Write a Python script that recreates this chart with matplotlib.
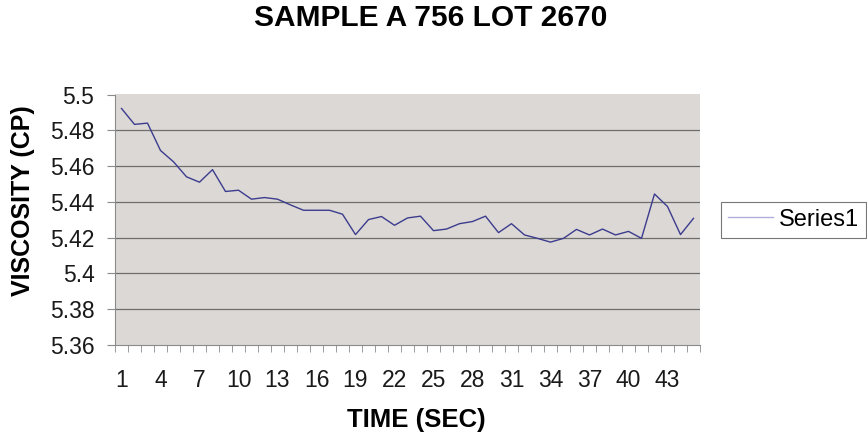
import matplotlib
matplotlib.use("Agg")
import matplotlib.pyplot as plt
import numpy as np

plt.rcParams['font.family'] = ['Liberation Sans', 'DejaVu Sans']

time_sec = list(range(1, 46))
viscosity = [5.4922, 5.4833, 5.4840, 5.4687, 5.4624, 5.4540, 5.4510, 5.4580,
             5.4458, 5.4465, 5.4415, 5.4424, 5.4415, 5.4383, 5.4353, 5.4353,
             5.4353, 5.4331, 5.4217, 5.4301, 5.4318, 5.4269, 5.4310, 5.4320,
             5.4239, 5.4248, 5.4278, 5.4290, 5.4320, 5.4228, 5.4278, 5.4215,
             5.4196, 5.4175, 5.4196, 5.4246, 5.4215, 5.4248, 5.4215, 5.4235,
             5.4196, 5.4444, 5.4374, 5.4217, 5.4308]
y_ticks = [5.36, 5.38, 5.40, 5.42, 5.44, 5.46, 5.48, 5.50]
y_tick_labels = ['5.36', '5.38', '5.4', '5.42', '5.44', '5.46', '5.48', '5.5']
x_label_values = list(range(1, 46, 3))

fig = plt.figure(figsize=(8.67, 4.4), dpi=100)
ax = fig.add_axes([115/867, 95/440, 585/867, 250.5/440])
ax.set_facecolor('#dbd8d5')

ax.plot(time_sec, viscosity, color='#3c3c8e', linewidth=1.0, label='Series1')

ax.set_xlim(0.5, 45.5)
ax.set_ylim(5.36, 5.50)
ax.set_yticks(y_ticks)
ax.set_yticklabels(y_tick_labels, fontsize=16.5, color='#1a1a1a')
ax.set_xticks(x_label_values)
ax.set_xticklabels([str(v) for v in x_label_values], fontsize=16.5, color='#1a1a1a')
ax.tick_params(axis='x', length=0, pad=17)
ax.set_xticks(np.arange(0.5, 46, 1.0), minor=True)
ax.tick_params(axis='x', which='minor', length=5, color='#8a8a8a', direction='out')
ax.tick_params(axis='y', length=5.8, color='#8a8a8a', direction='out', pad=9)

for yv in y_ticks[1:-1]:
    ax.axhline(yv, color='#6e6e6e', linewidth=0.9, zorder=1)

for s in ['top', 'right']:
    ax.spines[s].set_visible(False)
ax.spines['left'].set_color('#8a8a8a')
ax.spines['bottom'].set_color('#8a8a8a')

fig.text(416/867, 1 - 420/440, 'TIME (SEC)', fontsize=18.5, fontweight='bold',
         ha='center', va='center')
fig.text(23/867, 1 - 201/440, 'VISCOSITY (CP)', fontsize=18, fontweight='bold',
         ha='center', va='center', rotation=90)
fig.text(431/867, 1 - 18/440, 'SAMPLE A 756 LOT 2670', fontsize=21.5, fontweight='bold',
         ha='center', va='center')

leg = ax.legend(loc='center left', bbox_to_anchor=(1.036, 0.5), fontsize=17,
                frameon=True, fancybox=False, handlelength=1.9, borderpad=0.3,
                handletextpad=0.25, borderaxespad=0)
leg.get_frame().set_edgecolor('#555555')
leg.get_frame().set_linewidth(0.8)
leg.get_lines()[0].set_color('#b0aedb')

fig.savefig('out.png', dpi=100, facecolor='white')
